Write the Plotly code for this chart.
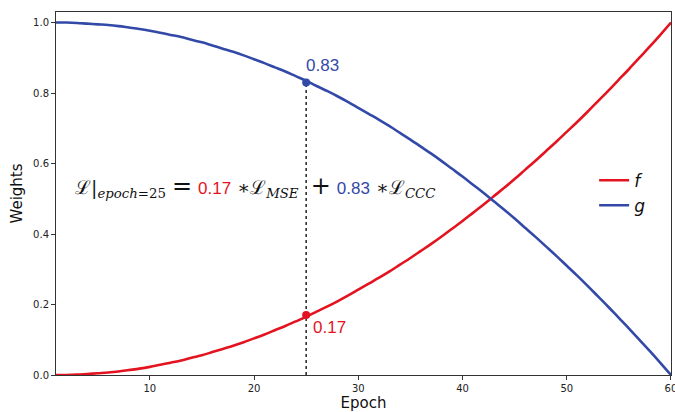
import plotly.graph_objects as go

epochs = list(range(1, 61))
f_vals = [0.000, 0.000, 0.001, 0.003, 0.005, 0.007, 0.010, 0.014, 0.018, 0.023,
          0.029, 0.035, 0.041, 0.049, 0.056, 0.065, 0.074, 0.083, 0.093, 0.104,
          0.115, 0.127, 0.139, 0.152, 0.165, 0.180, 0.194, 0.209, 0.225, 0.242,
          0.259, 0.276, 0.294, 0.313, 0.332, 0.352, 0.372, 0.393, 0.415, 0.437,
          0.460, 0.483, 0.507, 0.531, 0.556, 0.582, 0.608, 0.635, 0.662, 0.690,
          0.718, 0.747, 0.777, 0.807, 0.838, 0.869, 0.901, 0.933, 0.966, 1.000]
g_vals = [1.000, 1.000, 0.999, 0.997, 0.995, 0.993, 0.990, 0.986, 0.982, 0.977,
          0.971, 0.965, 0.959, 0.951, 0.944, 0.935, 0.926, 0.917, 0.907, 0.896,
          0.885, 0.873, 0.861, 0.848, 0.835, 0.820, 0.806, 0.791, 0.775, 0.758,
          0.741, 0.724, 0.706, 0.687, 0.668, 0.648, 0.628, 0.607, 0.585, 0.563,
          0.540, 0.517, 0.493, 0.469, 0.444, 0.418, 0.392, 0.365, 0.338, 0.310,
          0.282, 0.253, 0.223, 0.193, 0.162, 0.131, 0.099, 0.067, 0.034, 0.000]
mark_epoch = 25
mark_f = 0.17
mark_g = 0.83
x_ticks = [10, 20, 30, 40, 50, 60]
y_ticks = [0.0, 0.2, 0.4, 0.6, 0.8, 1.0]

RED = "#e3141f"
BLUE = "#3349a8"

fig = go.Figure()
fig.add_trace(go.Scatter(x=epochs, y=f_vals, mode="lines", name="<i>f</i>",
                         line=dict(color=RED, width=2.6, shape="spline")))
fig.add_trace(go.Scatter(x=epochs, y=g_vals, mode="lines", name="<i>g</i>",
                         line=dict(color=BLUE, width=2.6, shape="spline")))
fig.add_trace(go.Scatter(x=[mark_epoch, mark_epoch], y=[0, mark_g], mode="lines",
                         line=dict(color="#222", width=1.5, dash="dot"),
                         showlegend=False, hoverinfo="skip"))
fig.add_trace(go.Scatter(x=[mark_epoch], y=[mark_f], mode="markers",
                         marker=dict(color=RED, size=8), showlegend=False))
fig.add_trace(go.Scatter(x=[mark_epoch], y=[mark_g], mode="markers",
                         marker=dict(color=BLUE, size=8), showlegend=False))

fig.add_annotation(x=mark_epoch, y=mark_g, text=f"{mark_g:.2f}", showarrow=False,
                   xanchor="left", yanchor="bottom", xshift=-2, yshift=5,
                   font=dict(family="Liberation Sans, Arial", size=17, color=BLUE))
fig.add_annotation(x=mark_epoch, y=mark_f, text=f"{mark_f:.2f}", showarrow=False,
                   xanchor="left", yanchor="top", xshift=5, yshift=-1,
                   font=dict(family="Liberation Sans, Arial", size=17, color=RED))

eq = ("ℒ|<sub><i>epoch</i>=25</sub>&nbsp;<span style='font-size:24px'>=</span>&nbsp;"
      f"<span style='font-family:Liberation Sans, Arial;font-size:17px;color:{RED}'>{mark_f:.2f}</span>&nbsp;∗ℒ<sub><i>MSE</i></sub>"
      "&nbsp;&nbsp;<span style='font-size:24px'>+</span>&nbsp;"
      f"<span style='font-family:Liberation Sans, Arial;font-size:17px;color:{BLUE}'>{mark_g:.2f}</span>&nbsp;∗ℒ<sub><i>CCC</i></sub>")
fig.add_annotation(x=2.6, y=0.535, text=eq, showarrow=False, xanchor="left", yanchor="middle",
                   font=dict(family="DejaVu Serif, Liberation Serif", size=19, color="#111"))

axis_common = dict(showline=True, linecolor="#333", linewidth=1, mirror=True,
                   ticks="outside", ticklen=4, tickcolor="#333", showgrid=False,
                   zeroline=False, automargin=False,
                   tickfont=dict(family="DejaVu Sans", size=10, color="#222"))

fig.update_xaxes(range=[1, 60.002], tickvals=x_ticks, ticklabeloverflow="allow",
                 title=dict(text="Epoch", font=dict(family="DejaVu Sans", size=15, color="#111"), standoff=4),
                 **axis_common)
fig.update_yaxes(range=[0, 1.03], tickvals=y_ticks, tickformat=".1f",
                 title=dict(text="Weights", font=dict(family="DejaVu Sans", size=15, color="#111"), standoff=6),
                 **axis_common)

fig.update_layout(
    width=675, height=412,
    margin=dict(l=56, r=4, t=12, b=37),
    plot_bgcolor="white", paper_bgcolor="white",
    legend=dict(x=0.875, y=0.585, xanchor="left", yanchor="top",
                font=dict(family="DejaVu Sans", size=17, color="#111"),
                bgcolor="rgba(0,0,0,0)", tracegroupgap=0),
)

fig.write_html("out.html", config={"displayModeBar": False},
               post_script="document.body.style.margin='0';document.body.style.overflow='hidden';")
